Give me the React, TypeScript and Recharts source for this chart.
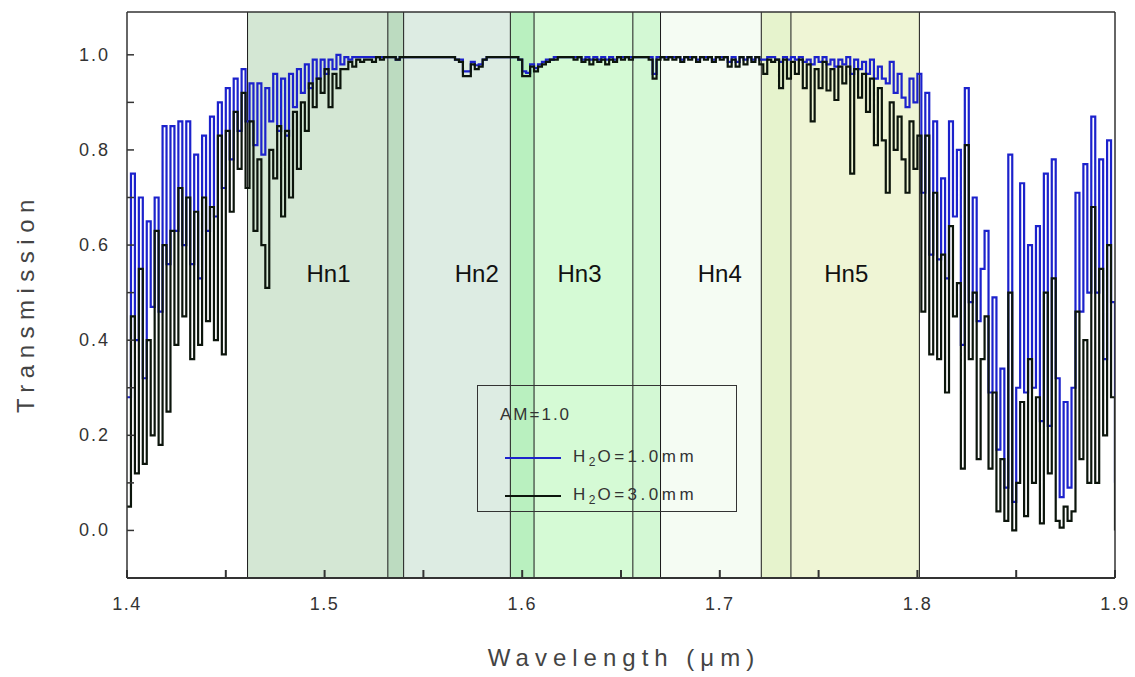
import React from 'react';
import { LineChart, Line, XAxis, YAxis, ReferenceArea, ReferenceLine, ReferenceDot, Legend } from 'recharts';

const FONT = '"Liberation Sans", Arial, sans-serif';

// wavelength grid in micrometres
const WAVELENGTH = [
  1.400, 1.402, 1.404, 1.406, 1.408, 1.410, 1.412, 1.414, 1.416, 1.418,
  1.420, 1.422, 1.424, 1.426, 1.428, 1.430, 1.432, 1.434, 1.436, 1.438,
  1.440, 1.442, 1.444, 1.446, 1.448, 1.450, 1.452, 1.454, 1.456, 1.458,
  1.460, 1.462, 1.464, 1.466, 1.468, 1.470, 1.472, 1.474, 1.476, 1.478,
  1.480, 1.482, 1.484, 1.486, 1.488, 1.490, 1.492, 1.494, 1.496, 1.498,
  1.500, 1.502, 1.504, 1.506, 1.508, 1.510, 1.512, 1.514, 1.516, 1.518,
  1.520, 1.522, 1.524, 1.526, 1.528, 1.530, 1.532, 1.534, 1.536, 1.538,
  1.540, 1.542, 1.544, 1.546, 1.548, 1.550, 1.552, 1.554, 1.556, 1.558,
  1.560, 1.562, 1.564, 1.566, 1.568, 1.570, 1.572, 1.574, 1.576, 1.578,
  1.580, 1.582, 1.584, 1.586, 1.588, 1.590, 1.592, 1.594, 1.596, 1.598,
  1.600, 1.602, 1.604, 1.606, 1.608, 1.610, 1.612, 1.614, 1.616, 1.618,
  1.620, 1.622, 1.624, 1.626, 1.628, 1.630, 1.632, 1.634, 1.636, 1.638,
  1.640, 1.642, 1.644, 1.646, 1.648, 1.650, 1.652, 1.654, 1.656, 1.658,
  1.660, 1.662, 1.664, 1.666, 1.668, 1.670, 1.672, 1.674, 1.676, 1.678,
  1.680, 1.682, 1.684, 1.686, 1.688, 1.690, 1.692, 1.694, 1.696, 1.698,
  1.700, 1.702, 1.704, 1.706, 1.708, 1.710, 1.712, 1.714, 1.716, 1.718,
  1.720, 1.722, 1.724, 1.726, 1.728, 1.730, 1.732, 1.734, 1.736, 1.738,
  1.740, 1.742, 1.744, 1.746, 1.748, 1.750, 1.752, 1.754, 1.756, 1.758,
  1.760, 1.762, 1.764, 1.766, 1.768, 1.770, 1.772, 1.774, 1.776, 1.778,
  1.780, 1.782, 1.784, 1.786, 1.788, 1.790, 1.792, 1.794, 1.796, 1.798,
  1.800, 1.802, 1.804, 1.806, 1.808, 1.810, 1.812, 1.814, 1.816, 1.818,
  1.820, 1.822, 1.824, 1.826, 1.828, 1.830, 1.832, 1.834, 1.836, 1.838,
  1.840, 1.842, 1.844, 1.846, 1.848, 1.850, 1.852, 1.854, 1.856, 1.858,
  1.860, 1.862, 1.864, 1.866, 1.868, 1.870, 1.872, 1.874, 1.876, 1.878,
  1.880, 1.882, 1.884, 1.886, 1.888, 1.890, 1.892, 1.894, 1.896, 1.898,
  1.900,
];

// transmission, H2O = 1.0 mm (blue)
const H2O_1MM = [
  0.28, 0.75, 0.40, 0.70, 0.32, 0.65, 0.47, 0.70, 0.46, 0.85,
  0.56, 0.85, 0.63, 0.86, 0.60, 0.86, 0.56, 0.79, 0.53, 0.83,
  0.63, 0.87, 0.66, 0.90, 0.72, 0.93, 0.78, 0.95, 0.84, 0.97,
  0.86, 0.94, 0.81, 0.94, 0.79, 0.93, 0.86, 0.96, 0.84, 0.95,
  0.83, 0.96, 0.89, 0.97, 0.92, 0.98, 0.93, 0.99, 0.95, 0.99,
  0.96, 0.99, 0.97, 1.00, 0.98, 0.995, 0.99, 0.995, 0.995, 0.995,
  0.995, 0.995, 0.995, 0.995, 0.995, 0.995, 0.995, 0.995, 0.99, 0.995,
  0.995, 0.995, 0.995, 0.995, 0.995, 0.995, 0.995, 0.995, 0.995, 0.995,
  0.995, 0.995, 0.995, 0.99, 0.99, 0.965, 0.965, 0.985, 0.978, 0.98,
  0.99, 0.995, 0.995, 0.995, 0.995, 0.995, 0.995, 0.995, 0.995, 0.99,
  0.965, 0.962, 0.98, 0.972, 0.98, 0.985, 0.99, 0.99, 0.995, 0.995,
  0.995, 0.995, 0.995, 0.995, 0.995, 0.99, 0.995, 0.99, 0.995, 0.99,
  0.995, 0.99, 0.995, 0.99, 0.995, 0.995, 0.995, 0.995, 0.995, 0.995,
  0.995, 0.995, 0.995, 0.96, 0.995, 0.995, 0.995, 0.995, 0.995, 0.995,
  0.99, 0.995, 0.995, 0.995, 0.99, 0.995, 0.995, 0.995, 0.99, 0.995,
  0.995, 0.995, 0.985, 0.995, 0.985, 0.995, 0.99, 0.995, 0.99, 0.995,
  0.99, 0.99, 0.995, 0.995, 0.99, 0.985, 0.995, 0.99, 0.995, 0.99,
  0.995, 0.985, 0.99, 0.98, 0.995, 0.985, 0.995, 0.98, 0.99, 0.975,
  0.99, 0.98, 0.995, 0.96, 0.99, 0.97, 0.985, 0.96, 0.99, 0.95,
  0.975, 0.95, 0.94, 0.985, 0.92, 0.96, 0.91, 0.89, 0.95, 0.90,
  0.96, 0.71, 0.92, 0.58, 0.86, 0.57, 0.74, 0.53, 0.86, 0.66,
  0.80, 0.39, 0.93, 0.48, 0.70, 0.44, 0.55, 0.63, 0.29, 0.49,
  0.17, 0.34, 0.09, 0.79, 0.06, 0.30, 0.73, 0.29, 0.60, 0.30,
  0.64, 0.23, 0.75, 0.22, 0.78, 0.32, 0.07, 0.27, 0.09, 0.30,
  0.71, 0.46, 0.77, 0.50, 0.87, 0.50, 0.78, 0.36, 0.82, 0.48,
  0.10,
];

// transmission, H2O = 3.0 mm (black)
const H2O_3MM = [
  0.05, 0.45, 0.12, 0.55, 0.14, 0.40, 0.20, 0.63, 0.18, 0.60,
  0.25, 0.63, 0.39, 0.72, 0.45, 0.70, 0.36, 0.67, 0.39, 0.70,
  0.44, 0.68, 0.40, 0.83, 0.37, 0.84, 0.67, 0.88, 0.76, 0.92,
  0.72, 0.86, 0.63, 0.78, 0.60, 0.51, 0.80, 0.74, 0.85, 0.66,
  0.84, 0.70, 0.88, 0.76, 0.90, 0.84, 0.94, 0.89, 0.95, 0.92,
  0.97, 0.89, 0.96, 0.93, 0.97, 0.97, 0.985, 0.975, 0.99, 0.985,
  0.99, 0.99, 0.985, 0.995, 0.99, 0.995, 0.995, 0.995, 0.99, 0.995,
  0.995, 0.995, 0.995, 0.995, 0.995, 0.995, 0.995, 0.995, 0.995, 0.995,
  0.995, 0.995, 0.995, 0.99, 0.985, 0.955, 0.955, 0.98, 0.97, 0.975,
  0.99, 0.995, 0.995, 0.995, 0.995, 0.995, 0.995, 0.995, 0.995, 0.99,
  0.955, 0.955, 0.975, 0.965, 0.975, 0.98, 0.985, 0.99, 0.99, 0.995,
  0.995, 0.995, 0.995, 0.99, 0.995, 0.985, 0.99, 0.98, 0.99, 0.985,
  0.99, 0.98, 0.99, 0.985, 0.995, 0.99, 0.995, 0.99, 0.995, 0.995,
  0.995, 0.995, 0.99, 0.95, 0.99, 0.995, 0.99, 0.995, 0.99, 0.995,
  0.985, 0.995, 0.99, 0.995, 0.985, 0.995, 0.99, 0.995, 0.985, 0.995,
  0.99, 0.995, 0.975, 0.99, 0.975, 0.995, 0.98, 0.995, 0.985, 0.995,
  0.98, 0.96, 0.99, 0.985, 0.99, 0.93, 0.99, 0.95, 0.985, 0.96,
  0.99, 0.93, 0.98, 0.86, 0.97, 0.93, 0.985, 0.925, 0.97, 0.905,
  0.975, 0.94, 0.975, 0.75, 0.97, 0.91, 0.96, 0.88, 0.95, 0.81,
  0.93, 0.82, 0.71, 0.90, 0.80, 0.87, 0.78, 0.71, 0.86, 0.76,
  0.83, 0.46, 0.83, 0.37, 0.71, 0.36, 0.58, 0.29, 0.64, 0.45,
  0.52, 0.13, 0.81, 0.36, 0.50, 0.15, 0.36, 0.45, 0.13, 0.29,
  0.04, 0.15, 0.02, 0.50, 0.00, 0.10, 0.27, 0.03, 0.36, 0.10,
  0.28, 0.015, 0.50, 0.12, 0.53, 0.02, 0.006, 0.05, 0.02, 0.04,
  0.46, 0.15, 0.40, 0.10, 0.68, 0.10, 0.55, 0.20, 0.60, 0.28,
  0.00,
];

const SERIES_NAMES = ['H\u2082O=1.0mm', 'H\u2082O=3.0mm'];

// filter bands
const BAND_NAMES = ['Hn1', 'Hn2', 'Hn3', 'Hn4', 'Hn5'];
const BAND_START = [1.461, 1.532, 1.594, 1.656, 1.721];
const BAND_END = [1.540, 1.606, 1.670, 1.736, 1.801];
const BAND_LABEL_AT = [1.502, 1.577, 1.629, 1.700, 1.764];

const X_TICKS = [1.4, 1.45, 1.5, 1.55, 1.6, 1.65, 1.7, 1.75, 1.8, 1.85, 1.9];
const X_LABELS = [1.4, 1.5, 1.6, 1.7, 1.8, 1.9];
const Y_TICKS = [0, 0.1, 0.2, 0.3, 0.4, 0.5, 0.6, 0.7, 0.8, 0.9, 1.0];
const Y_LABELS = [0, 0.2, 0.4, 0.6, 0.8, 1.0];

// fill of each piece between consecutive band edges, left to right
const PIECE_FILLS = ['#d4e7d4', '#bcdbc0', '#ddece3', '#b9f0bf', '#d5fad5', '#d3f8d4', '#f5fcf3', '#e6f3cd', '#eff5d5'];

const rows = WAVELENGTH.map((w, i) => ({ w, thin: H2O_1MM[i], thick: H2O_3MM[i] }));
const edges = [...BAND_START, ...BAND_END].sort((a, b) => a - b);

const has = (list: number[], v: number) => list.some((t) => Math.abs(t - v) < 1e-6);

const XTick = (p: any) => {
  const v = p.payload.value;
  if (!has(X_LABELS, v)) return <g />;
  return (
    <text x={p.x} y={p.y} dy={14} textAnchor="middle" fontSize={18} fill="#333" fontFamily={FONT} letterSpacing={1.5}>
      {v.toFixed(1)}
    </text>
  );
};

const YTick = (p: any) => {
  const v = p.payload.value;
  if (!has(Y_LABELS, v)) return <g />;
  return (
    <text x={p.x} y={p.y} dy={6} textAnchor="end" fontSize={18} fill="#333" fontFamily={FONT} letterSpacing={2}>
      {v.toFixed(1)}
    </text>
  );
};

// H₂O drawn with a real lowered 2
const SubName = ({ text }: { text: string }) => {
  const [a, b] = text.split('\u2082');
  if (b === undefined) return <>{text}</>;
  return (
    <>
      {a}
      <sub style={{ fontSize: 12, verticalAlign: -4, letterSpacing: 2 }}>2</sub>
      {b}
    </>
  );
};

const LegendBox = ({ payload }: any) => (
  <div style={{ position: 'relative', width: '100%', height: '100%', fontFamily: FONT, color: '#333' }}>
    <div style={{ position: 'absolute', left: 22, top: 19, fontSize: 17, letterSpacing: 2 }}>AM=1.0</div>
    {(payload || []).map((e: any, i: number) => (
      <div key={i} style={{ position: 'absolute', left: 27, top: 61 + i * 38, display: 'flex', alignItems: 'center', fontSize: 17, letterSpacing: 3.5, whiteSpace: 'nowrap' }}>
        <svg width={56} height={4} style={{ display: 'block' }}>
          <line x1={0} y1={2} x2={56} y2={2} stroke={e.color} strokeWidth={2} />
        </svg>
        <span style={{ marginLeft: 12 }}><SubName text={String(e.value)} /></span>
      </div>
    ))}
  </div>
);

export default function App() {
  return (
    <div style={{ position: 'absolute', left: 0, top: 0, width: 1135, height: 677, background: '#fff' }}>
      <LineChart width={1135} height={677} data={rows} margin={{ top: 0, right: 0, bottom: 0, left: 0 }}>
        <XAxis
          xAxisId="b"
          dataKey="w"
          type="number"
          domain={[1.4, 1.9]}
          ticks={X_TICKS}
          allowDataOverflow
          height={99}
          tickSize={-8}
          tickMargin={26}
          tick={XTick}
          stroke="#333"
          strokeWidth={2}
          label={(p: any) => {
            const vb = p.viewBox || { x: 127, y: 578, width: 988 };
            return (
              <text x={vb.x + vb.width / 2 + 3} y={vb.y + 88} textAnchor="middle" fontSize={24} fill="#444" fontFamily={FONT} letterSpacing={6}>
                Wavelength (μm)
              </text>
            );
          }}
        />
        <XAxis xAxisId="t" orientation="top" type="number" domain={[1.4, 1.9]} ticks={X_TICKS} allowDataOverflow height={12} tickSize={-6} tick={false} stroke="#333" strokeWidth={1.5} />
        <YAxis
          yAxisId="l"
          type="number"
          domain={[-0.1, 1.09]}
          ticks={Y_TICKS}
          allowDataOverflow
          width={127}
          tickSize={-7}
          tickMargin={24}
          tick={YTick}
          stroke="#333"
          strokeWidth={1.5}
          label={(p: any) => {
            const vb = p.viewBox || { x: 0, y: 12, height: 566 };
            const cx = 25;
            const cy = vb.y + vb.height / 2 + 8;
            return (
              <text x={cx} y={cy} transform={`rotate(-90 ${cx} ${cy})`} textAnchor="middle" dominantBaseline="central" fontSize={24} fill="#444" fontFamily={FONT} letterSpacing={6.5}>
                Transmission
              </text>
            );
          }}
        />
        <YAxis yAxisId="r" orientation="right" type="number" domain={[-0.1, 1.09]} ticks={Y_TICKS} allowDataOverflow width={20} tickSize={-7} tick={false} stroke="#333" strokeWidth={1.5} />

        {PIECE_FILLS.map((fill, i) => (
          <ReferenceArea key={`p${i}`} xAxisId="b" yAxisId="l" x1={edges[i]} x2={edges[i + 1]} fill={fill} fillOpacity={1} stroke="none" />
        ))}
        {edges.map((x, i) => (
          <ReferenceLine key={`e${i}`} xAxisId="b" yAxisId="l" x={x} stroke="#1a1a1a" strokeWidth={1} />
        ))}

        <Line xAxisId="b" yAxisId="l" type="stepAfter" dataKey="thin" name={SERIES_NAMES[0]} stroke="#1c22cc" strokeWidth={2.2} dot={false} isAnimationActive={false} />
        <Line xAxisId="b" yAxisId="l" type="stepAfter" dataKey="thick" name={SERIES_NAMES[1]} stroke="#0c150c" strokeWidth={2.2} dot={false} isAnimationActive={false} />

        {BAND_NAMES.map((name, i) => (
          <ReferenceDot
            key={name}
            xAxisId="b"
            yAxisId="l"
            x={BAND_LABEL_AT[i]}
            y={0.54}
            r={0}
            fill="none"
            stroke="none"
            label={{ value: name, position: 'center', fontSize: 24, fill: '#111', fontFamily: FONT }}
          />
        ))}

        <Legend
          layout="vertical"
          align="center"
          verticalAlign="middle"
          wrapperStyle={{ left: 477, top: 385, width: 260, height: 127, border: '1.5px solid #333', boxSizing: 'border-box' }}
          content={(p: any) => <LegendBox payload={p.payload} />}
        />
      </LineChart>
    </div>
  );
}
